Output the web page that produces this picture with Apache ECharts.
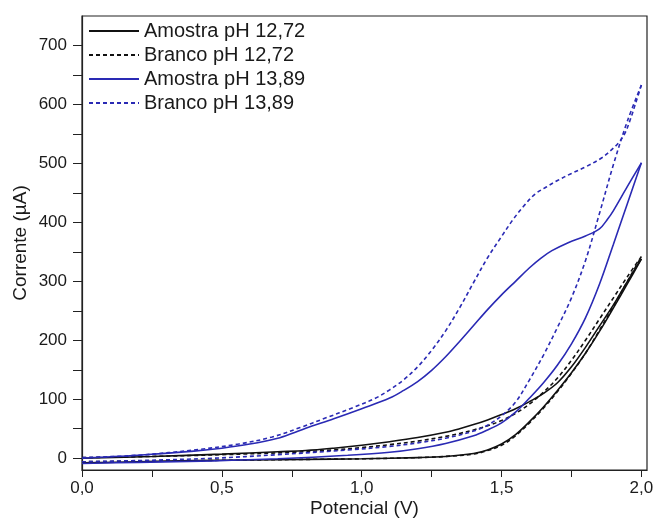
<!DOCTYPE html>
<html>
<head>
<meta charset="utf-8">
<script src="https://cdn.jsdelivr.net/npm/echarts@6/dist/echarts.min.js"></script>
<style>
html,body{margin:0;padding:0;background:#fff;}
#chart{width:654px;height:520px;}
</style>
</head>
<body>
<div id="chart"></div>
<script>
// Legend names
const seriesNames = ['Amostra pH 12,72', 'Branco pH 12,72', 'Amostra pH 13,89', 'Branco pH 13,89'];

// Axis ticks
const xTickLabels = [0, 0.5, 1.0, 1.5, 2.0];
const xTickMarks = [0, 0.25, 0.5, 0.75, 1.0, 1.25, 1.5, 1.75, 2.0];
const yTickLabels = [0, 100, 200, 300, 400, 500, 600, 700];
const yTickMarks = [0, 50, 100, 150, 200, 250, 300, 350, 400, 450, 500, 550, 600, 650, 700];

// Amostra pH 12,72 (forward scan / reverse scan) [V, µA]
const amostra1272Fwd = [[0,-8],[0.2,-6],[0.4,-4],[0.6,-3],[0.8,-2],[1.0,-1],[1.2,1],[1.3,3],[1.4,8],[1.45,14],[1.5,24],[1.55,40],[1.6,62],[1.65,87],[1.7,115],[1.75,145],[1.8,178],[1.85,215],[1.9,255],[1.95,296],[2.0,338]];
const amostra1272Rev = [[2.0,338],[1.95,300],[1.9,260],[1.85,224],[1.8,188],[1.75,155],[1.7,128],[1.65,110],[1.6,96],[1.55,84],[1.5,74],[1.45,65],[1.4,57],[1.35,50],[1.3,44],[1.2,35],[1.1,28],[1.0,22],[0.9,17],[0.8,13],[0.7,11],[0.5,7],[0.25,3],[0,0]];

// Branco pH 12,72
const branco1272Fwd = [[0,-6],[0.2,-5],[0.4,-4],[0.6,-3],[0.8,-2],[1.0,-1],[1.2,1],[1.3,3],[1.4,7],[1.45,13],[1.5,22],[1.55,38],[1.6,60],[1.65,85],[1.7,113],[1.75,144],[1.8,178],[1.85,217],[1.9,258],[1.95,300],[2.0,342]];
const branco1272Rev = [[2.0,342],[1.95,308],[1.9,272],[1.85,236],[1.8,200],[1.75,166],[1.7,136],[1.65,112],[1.6,92],[1.55,76],[1.5,64],[1.45,55],[1.4,48],[1.35,42],[1.3,37],[1.2,29],[1.1,23],[1.0,18],[0.9,14],[0.75,10],[0.5,6],[0.25,3],[0,1]];

// Amostra pH 13,89
const amostra1389Fwd = [[0,-9],[0.2,-7],[0.47,-4.5],[0.7,-1],[0.95,5],[1.1,10],[1.2,16],[1.3,25],[1.4,38],[1.45,48],[1.5,60],[1.55,78],[1.6,102],[1.65,128],[1.7,158],[1.75,194],[1.8,238],[1.85,295],[1.9,363],[1.95,432],[2.0,501]];
const amostra1389Rev = [[2.0,501],[1.95,461],[1.9,420],[1.88,406],[1.85,389],[1.8,377],[1.74,366],[1.68,352],[1.64,339],[1.6,323],[1.55,300],[1.5,277],[1.45,252],[1.4,225],[1.35,198],[1.3,172],[1.25,149],[1.2,130],[1.15,115],[1.1,102],[1.0,84],[0.9,67],[0.8,51],[0.75,42],[0.7,34],[0.6,24],[0.5,17],[0.4,12],[0.2,5],[0,0]];

// Branco pH 13,89
const branco1389Fwd = [[0,-6],[0.2,-4],[0.47,0],[0.7,6],[0.95,14],[1.1,20],[1.2,26],[1.3,34],[1.4,46],[1.45,56],[1.5,72],[1.55,95],[1.6,133],[1.65,175],[1.7,222],[1.75,272],[1.8,335],[1.85,415],[1.9,498],[1.95,572],[2.0,633]];
const branco1389Rev = [[2.0,633],[1.98,603],[1.96,574],[1.94,550],[1.92,536],[1.9,526],[1.86,510],[1.8,494],[1.75,483],[1.7,471],[1.66,460],[1.62,448],[1.58,428],[1.54,404],[1.5,376],[1.45,340],[1.4,298],[1.35,255],[1.3,216],[1.25,183],[1.2,155],[1.15,133],[1.1,116],[1.05,102],[0.97,86],[0.87,68],[0.78,52],[0.68,36],[0.56,24],[0.42,15],[0.2,5],[0,1]];

const BLACK = '#111111';
const BLUE = '#2a2ab4';
const FONT = 'Liberation Sans, Arial, sans-serif';

function mk(name, data, color, dashed) {
  return {
    name: name,
    type: 'line',
    data: data,
    symbol: 'none',
    smooth: 0.35,
    lineStyle: { color: color, width: 1.6, type: dashed ? [4, 3] : 'solid' },
    itemStyle: { color: color },
    emphasis: { disabled: true },
    animation: false
  };
}

const chart = echarts.init(document.getElementById('chart'), null, { renderer: 'canvas' });
const fmtX = v => v.toFixed(1).replace('.', ',');

chart.setOption({
  backgroundColor: '#ffffff',
  animation: false,
  grid: { left: 82, right: 7, top: 16, bottom: 50, containLabel: false, outerBoundsMode: 'none', show: true, borderColor: '#222', borderWidth: 1.2, backgroundColor: 'transparent' },
  legend: {
    data: seriesNames,
    orient: 'vertical',
    left: 83,
    top: 16,
    itemWidth: 50,
    itemHeight: 14,
    itemGap: 4,
    itemStyle: { color: 'transparent', borderColor: 'transparent', borderWidth: 0, opacity: 0 },
    textStyle: { fontFamily: FONT, fontSize: 20, color: '#1a1a1a', lineHeight: 20 },
    selectedMode: false
  },
  xAxis: {
    type: 'value',
    min: 0,
    max: 2.02,
    interval: 0.5,
    name: 'Potencial (V)',
    nameLocation: 'middle',
    nameGap: 29,
    nameMoveOverlap: false,
    nameTextStyle: { fontFamily: FONT, fontSize: 19, color: '#1a1a1a' },
    axisLine: { onZero: false, lineStyle: { color: '#222', width: 1.2 } },
    axisTick: { show: true, inside: false, length: 7, customValues: xTickMarks, lineStyle: { color: '#222' } },
    axisLabel: { customValues: xTickLabels, formatter: fmtX, fontFamily: FONT, fontSize: 17, color: '#1a1a1a', margin: 10 },
    splitLine: { show: false }
  },
  yAxis: {
    type: 'value',
    min: -20,
    max: 750,
    name: 'Corrente (\u00b5A)',
    nameLocation: 'middle',
    nameGap: 52,
    nameMoveOverlap: false,
    nameTextStyle: { fontFamily: FONT, fontSize: 19, color: '#1a1a1a' },
    axisLine: { show: true, onZero: false, lineStyle: { color: '#222', width: 1.2 } },
    axisTick: { show: true, inside: false, length: 9, customValues: yTickMarks, lineStyle: { color: '#222' } },
    axisLabel: { customValues: yTickLabels, fontFamily: FONT, fontSize: 17, color: '#1a1a1a', margin: 15 },
    splitLine: { show: false }
  },
  series: [
    mk(seriesNames[0], amostra1272Fwd, BLACK, false),
    mk(seriesNames[0], amostra1272Rev, BLACK, false),
    mk(seriesNames[1], branco1272Fwd, BLACK, true),
    mk(seriesNames[1], branco1272Rev, BLACK, true),
    mk(seriesNames[2], amostra1389Fwd, BLUE, false),
    mk(seriesNames[2], amostra1389Rev, BLUE, false),
    mk(seriesNames[3], branco1389Fwd, BLUE, true),
    mk(seriesNames[3], branco1389Rev, BLUE, true)
  ]
});
</script>
</body>
</html>
